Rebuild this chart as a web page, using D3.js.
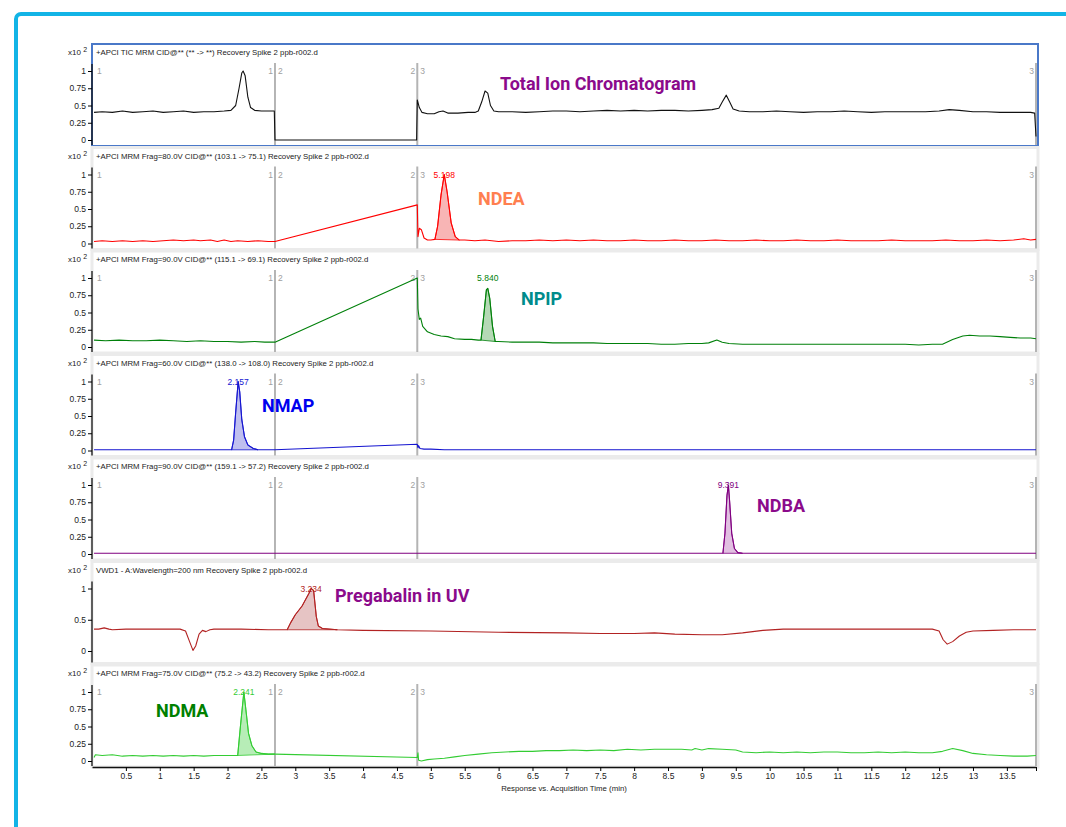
<!DOCTYPE html>
<meta http-equiv="Content-type" content="text/html; charset=UTF-8"/>
<style>body { margin: 0 } * { font-family: 'Liberation Sans', Arial, sans-serif }</style>
<svg width="1066" height="827"></svg>
<script src="https://d3js.org/d3.v7.min.js"></script>
<script>
// retention time (min), response (x10^2)
var ticTrace = [[0.03,0.40],[0.15,0.41],[0.3,0.40],[0.45,0.42],[0.6,0.40],[0.75,0.41],[0.9,0.42],[1.05,0.40],[1.2,0.41],[1.35,0.42],[1.5,0.40],[1.65,0.41],[1.8,0.41],[1.95,0.42],[2.05,0.43],[2.12,0.50],[2.17,0.75],[2.21,0.97],[2.23,1.0],[2.26,0.93],[2.30,0.62],[2.34,0.47],[2.40,0.43],[2.5,0.42],[2.6,0.42],[2.69,0.42],[2.70,0.0],[4.79,0.0],[4.80,0.58],[4.83,0.47],[4.87,0.40],[4.95,0.38],[5.05,0.38],[5.12,0.41],[5.18,0.42],[5.25,0.39],[5.4,0.39],[5.55,0.40],[5.65,0.40],[5.70,0.42],[5.75,0.55],[5.80,0.71],[5.84,0.68],[5.88,0.50],[5.93,0.42],[6.0,0.41],[6.2,0.41],[6.4,0.40],[6.6,0.41],[6.8,0.42],[7.0,0.42],[7.2,0.41],[7.4,0.42],[7.6,0.43],[7.8,0.42],[8.0,0.43],[8.2,0.42],[8.4,0.43],[8.6,0.43],[8.8,0.42],[9.0,0.43],[9.15,0.44],[9.25,0.46],[9.30,0.55],[9.36,0.65],[9.41,0.55],[9.46,0.45],[9.55,0.42],[9.7,0.41],[9.9,0.41],[10.1,0.42],[10.3,0.41],[10.5,0.40],[10.7,0.41],[10.9,0.41],[11.1,0.42],[11.3,0.41],[11.5,0.40],[11.7,0.41],[11.9,0.41],[12.1,0.41],[12.3,0.41],[12.5,0.42],[12.65,0.44],[12.8,0.43],[13.0,0.41],[13.2,0.41],[13.4,0.40],[13.6,0.40],[13.85,0.40],[13.91,0.39],[13.93,0.05]];

var ndeaTrace = [[0.03,0.03],[0.15,0.04],[0.3,0.03],[0.45,0.04],[0.6,0.03],[0.75,0.04],[0.9,0.03],[1.05,0.04],[1.2,0.05],[1.35,0.04],[1.5,0.05],[1.6,0.04],[1.75,0.05],[1.85,0.03],[1.95,0.05],[2.05,0.03],[2.15,0.04],[2.3,0.03],[2.45,0.04],[2.6,0.03],[2.70,0.03],[4.80,0.56],[4.81,0.10],[4.83,0.22],[4.86,0.20],[4.9,0.08],[4.95,0.05],[5.0,0.05],[5.06,0.06],[5.10,0.25],[5.15,0.70],[5.198,1.0],[5.24,0.75],[5.30,0.30],[5.36,0.10],[5.42,0.05],[5.5,0.05],[5.65,0.04],[5.8,0.05],[6.0,0.03],[6.2,0.04],[6.4,0.04],[6.6,0.05],[6.8,0.04],[7.0,0.05],[7.2,0.04],[7.4,0.05],[7.6,0.04],[7.8,0.04],[8.0,0.05],[8.2,0.04],[8.4,0.04],[8.6,0.05],[8.8,0.04],[9.0,0.04],[9.2,0.05],[9.4,0.04],[9.6,0.04],[9.8,0.05],[10.0,0.04],[10.2,0.04],[10.4,0.05],[10.6,0.04],[10.8,0.04],[11.0,0.05],[11.2,0.04],[11.4,0.04],[11.6,0.04],[11.8,0.05],[12.0,0.04],[12.2,0.04],[12.4,0.04],[12.6,0.05],[12.8,0.04],[13.0,0.04],[13.2,0.05],[13.4,0.04],[13.6,0.05],[13.75,0.07],[13.85,0.05],[13.93,0.06]];

var npipTrace = [[0.03,0.10],[0.2,0.09],[0.4,0.10],[0.6,0.09],[0.8,0.09],[1.0,0.10],[1.2,0.09],[1.4,0.08],[1.6,0.09],[1.8,0.08],[2.0,0.08],[2.2,0.07],[2.4,0.08],[2.55,0.07],[2.70,0.07],[4.80,1.0],[4.81,0.55],[4.83,0.40],[4.85,0.42],[4.88,0.30],[4.95,0.22],[5.05,0.18],[5.15,0.16],[5.25,0.15],[5.35,0.12],[5.5,0.11],[5.6,0.11],[5.7,0.10],[5.74,0.10],[5.78,0.45],[5.82,0.83],[5.84,0.85],[5.87,0.70],[5.91,0.30],[5.95,0.08],[6.0,0.08],[6.2,0.07],[6.4,0.07],[6.6,0.07],[6.8,0.06],[7.0,0.06],[7.2,0.06],[7.4,0.06],[7.6,0.05],[7.8,0.05],[8.0,0.05],[8.2,0.05],[8.4,0.04],[8.6,0.04],[8.8,0.05],[9.0,0.05],[9.1,0.06],[9.22,0.10],[9.3,0.07],[9.4,0.05],[9.6,0.04],[9.8,0.04],[10.0,0.04],[10.3,0.04],[10.6,0.04],[10.9,0.04],[11.2,0.04],[11.5,0.04],[11.8,0.04],[12.0,0.04],[12.2,0.03],[12.4,0.04],[12.55,0.04],[12.7,0.11],[12.85,0.16],[12.95,0.17],[13.1,0.16],[13.25,0.16],[13.4,0.15],[13.55,0.14],[13.7,0.13],[13.85,0.13],[13.93,0.12]];

var nmapTrace = [[0.03,0.01],[0.5,0.01],[1.0,0.01],[1.5,0.01],[1.9,0.01],[2.06,0.01],[2.09,0.15],[2.12,0.55],[2.157,1.0],[2.18,0.85],[2.21,0.45],[2.25,0.20],[2.30,0.08],[2.38,0.03],[2.45,0.01],[2.5,0.01],[2.70,0.01],[4.80,0.09],[4.81,0.04],[4.82,0.07],[4.84,0.03],[4.9,0.02],[5.0,0.02],[5.2,0.01],[6.0,0.01],[8.0,0.01],[10.0,0.01],[12.0,0.01],[13.93,0.01]];

var ndbaTrace = [[0.03,0.01],[1.0,0.01],[2.0,0.01],[2.70,0.01],[4.80,0.01],[6.0,0.01],[8.0,0.01],[9.0,0.01],[9.31,0.01],[9.34,0.30],[9.37,0.85],[9.391,1.0],[9.41,0.75],[9.44,0.30],[9.48,0.08],[9.53,0.02],[9.6,0.01],[11.0,0.01],[13.93,0.01]];

var uvTrace = [[0.03,0.35],[0.1,0.35],[0.18,0.37],[0.25,0.35],[0.3,0.34],[0.5,0.35],[0.8,0.35],[1.1,0.35],[1.3,0.35],[1.38,0.32],[1.44,0.15],[1.49,0.01],[1.53,0.08],[1.58,0.27],[1.63,0.33],[1.68,0.31],[1.74,0.34],[1.8,0.35],[2.2,0.35],[2.6,0.34],[2.88,0.34],[2.93,0.45],[3.0,0.58],[3.1,0.72],[3.2,0.92],[3.234,1.0],[3.27,0.97],[3.31,0.55],[3.34,0.40],[3.4,0.36],[3.62,0.34],[4.0,0.33],[5.0,0.32],[6.0,0.30],[7.0,0.29],[7.5,0.28],[8.0,0.28],[8.3,0.29],[8.6,0.27],[9.0,0.26],[9.3,0.26],[9.6,0.29],[9.9,0.33],[10.2,0.35],[11.0,0.35],[12.0,0.35],[12.4,0.35],[12.5,0.32],[12.56,0.18],[12.62,0.11],[12.7,0.15],[12.8,0.24],[12.9,0.30],[13.0,0.32],[13.3,0.33],[13.6,0.34],[13.93,0.34]];

var ndmaTrace = [[0.03,0.05],[0.05,0.09],[0.15,0.08],[0.3,0.09],[0.45,0.07],[0.6,0.08],[0.75,0.07],[0.9,0.08],[1.05,0.07],[1.2,0.08],[1.35,0.07],[1.5,0.08],[1.65,0.07],[1.8,0.08],[1.95,0.08],[2.1,0.08],[2.15,0.08],[2.19,0.50],[2.241,1.0],[2.27,0.75],[2.31,0.40],[2.36,0.22],[2.42,0.13],[2.5,0.11],[2.6,0.10],[2.70,0.10],[4.80,0.05],[4.81,0.12],[4.82,0.01],[4.86,0.0],[4.95,0.02],[5.05,0.03],[5.2,0.04],[5.35,0.06],[5.5,0.08],[5.7,0.10],[5.9,0.12],[6.1,0.13],[6.3,0.14],[6.5,0.14],[6.7,0.15],[6.9,0.15],[7.1,0.16],[7.3,0.15],[7.5,0.16],[7.7,0.15],[7.9,0.17],[8.1,0.16],[8.3,0.17],[8.5,0.17],[8.7,0.17],[8.85,0.16],[8.9,0.18],[9.0,0.16],[9.1,0.18],[9.3,0.17],[9.5,0.16],[9.6,0.13],[9.8,0.12],[10.0,0.13],[10.2,0.12],[10.4,0.13],[10.6,0.12],[10.8,0.13],[11.0,0.13],[11.2,0.12],[11.4,0.12],[11.6,0.13],[11.8,0.12],[12.0,0.13],[12.2,0.12],[12.4,0.12],[12.55,0.14],[12.7,0.18],[12.85,0.15],[13.0,0.11],[13.2,0.09],[13.4,0.08],[13.6,0.07],[13.8,0.07],[13.93,0.08]];

var panelTitles = [
  "+APCI TIC MRM CID@** (** -> **) Recovery Spike 2 ppb-r002.d",
  "+APCI MRM Frag=80.0V CID@** (103.1 -> 75.1) Recovery Spike 2 ppb-r002.d",
  "+APCI MRM Frag=90.0V CID@** (115.1 -> 69.1) Recovery Spike 2 ppb-r002.d",
  "+APCI MRM Frag=60.0V CID@** (138.0 -> 108.0) Recovery Spike 2 ppb-r002.d",
  "+APCI MRM Frag=90.0V CID@** (159.1 -> 57.2) Recovery Spike 2 ppb-r002.d",
  "VWD1 - A:Wavelength=200 nm Recovery Spike 2 ppb-r002.d",
  "+APCI MRM Frag=75.0V CID@** (75.2 -> 43.2) Recovery Spike 2 ppb-r002.d"
];
var compoundNames = ["Total Ion Chromatogram", "NDEA", "NPIP", "NMAP", "NDBA", "Pregabalin in UV", "NDMA"];
var peakTimes = [null, 5.198, 5.840, 2.157, 9.391, 3.234, 2.241];
var peakLabels = ["", "5.198", "5.840", "2.157", "9.391", "3.234", "2.241"];
var peakStart = [null, 5.06, 5.74, 2.06, 9.31, 2.88, 2.15];
var peakEnd = [null, 5.42, 5.95, 2.45, 9.60, 3.62, 2.70];
var segmentBounds = [0.03, 2.70, 4.80, 13.93];
var yTicksMRM = [0, 0.25, 0.5, 0.75, 1];
var yTicksUV = [0, 0.5, 1];
var xTicks = [0.5,1,1.5,2,2.5,3,3.5,4,4.5,5,5.5,6,6.5,7,7.5,8,8.5,9,9.5,10,10.5,11,11.5,12,12.5,13,13.5];

var traces = [ticTrace, ndeaTrace, npipTrace, nmapTrace, ndbaTrace, uvTrace, ndmaTrace];
var lineColors = ["#111111", "#ff0000", "#00800a", "#1515d0", "#800080", "#b22222", "#33cc33"];
var fillColors = ["none", "#f7a8a8", "#a8d2a8", "#b4b4ec", "#dcb4dc", "#e2baba", "#aaeaaa"];
var nameColors = ["#8b0a8b", "#ff7f50", "#008b8b", "#0000ee", "#8b0a8b", "#8b0a8b", "#008000"];
var namePos = [[500, 90], [478, 205], [521, 305], [262, 412], [757, 512], [335, 602], [156, 717]];

var svg = d3.select("svg");

// cyan frame
svg.append("rect")
    .attr("x", 16).attr("y", 14)
    .attr("width", 1100).attr("height", 900)
    .attr("rx", 5)
    .attr("fill", "none")
    .attr("stroke", "#12b4e6")
    .attr("stroke-width", 4);

var x = d3.scaleLinear().domain([0, 13.93]).range([92, 1036]);
var line = d3.line().x(function(d) { return x(d[0]); }).y(function(d) { return d[1]; });

traces.forEach(function(trace, i) {
  var top = 44 + i * 103.5;
  var isUV = i == 5;
  var y = d3.scaleLinear()
      .domain(isUV ? [-0.104, 1] : [0, 1])
      .range([top + 96, top + 27]);

  // panel box
  svg.append("rect")
      .attr("x", 92).attr("y", top)
      .attr("width", 946).attr("height", 102)
      .attr("fill", "#fff")
      .attr("stroke", i == 0 ? "#4a78c8" : "#ebebeb")
      .attr("stroke-width", i == 0 ? 2 : 3);

  svg.append("text")
      .attr("x", 96).attr("y", top + 11)
      .style("font-size", "7.8px")
      .attr("fill", "#222")
      .text(panelTitles[i]);

  var xt = svg.append("text")
      .attr("x", 68).attr("y", top + 11)
      .style("font-size", "8px")
      .attr("fill", "#222")
      .text("x10 ");
  xt.append("tspan").attr("dy", -3).style("font-size", "7px").text("2");

  // segment dividers
  if (!isUV) {
    segmentBounds.slice(1).forEach(function(t) {
      svg.append("line")
          .attr("x1", x(t)).attr("x2", x(t))
          .attr("y1", top + 19).attr("y2", top + 101)
          .attr("stroke", "#b4b4b4")
          .attr("stroke-width", 2);
    });
    var segLabels = [["1", segmentBounds[0], "start", 3], ["1", segmentBounds[1], "end", -2], ["2", segmentBounds[1], "start", 3],
                     ["2", segmentBounds[2], "end", -2], ["3", segmentBounds[2], "start", 3], ["3", segmentBounds[3], "end", -2]];
    segLabels.forEach(function(s) {
      svg.append("text")
          .attr("x", x(s[1]) + s[3]).attr("y", top + 30)
          .attr("text-anchor", s[2])
          .style("font-size", "8.5px")
          .attr("fill", "#a0a0a0")
          .text(s[0]);
    });
  }

  // integrated peak
  if (peakStart[i] != null) {
    var inPeak = trace.filter(function(d) { return d[0] >= peakStart[i] && d[0] <= peakEnd[i]; });
    var poly = inPeak.map(function(d) { return [d[0], y(d[1])]; });
    svg.append("path")
        .attr("d", line(poly) + "Z")
        .attr("fill", fillColors[i])
        .attr("fill-opacity", 0.85)
        .attr("stroke", lineColors[i])
        .attr("stroke-width", 0.8);
    svg.append("text")
        .attr("x", x(peakTimes[i])).attr("y", top + 30)
        .attr("text-anchor", "middle")
        .style("font-size", "8.5px")
        .attr("fill", lineColors[i])
        .text(peakLabels[i]);
  }

  svg.append("path")
      .attr("d", line(trace.map(function(d) { return [d[0], y(d[1])]; })))
      .attr("fill", "none")
      .attr("stroke", lineColors[i])
      .attr("stroke-width", 1.1)
      .attr("stroke-linejoin", "round");

  // y axis
  var ya = svg.append("g")
      .attr("transform", "translate(92,0)")
      .call(d3.axisLeft(y).tickValues(isUV ? yTicksUV : yTicksMRM).tickSize(4).tickSizeOuter(0)
            .tickFormat(function(d) { return String(d); }));
  ya.select(".domain").attr("d", "M0," + (top + 20) + "V" + (top + 101)).attr("stroke", "#111").attr("stroke-width", 1.3);
  ya.selectAll("text").style("font-size", "8.5px").attr("fill", "#222").attr("dx", "1");

  svg.append("text")
      .attr("x", namePos[i][0]).attr("y", namePos[i][1])
      .style("font-family", "'Liberation Sans Narrow', 'Arial Narrow', Roboto, sans-serif")
      .style("font-weight", "bold")
      .style("font-size", "18px")
      .attr("fill", nameColors[i])
      .text(compoundNames[i]);
});

// time axis
var xa = svg.append("g")
    .attr("transform", "translate(0,767)")
    .call(d3.axisBottom(x).tickValues(xTicks.concat([13.93])).tickSize(4).tickSizeOuter(0)
          .tickFormat(function(d) { return d == 13.93 ? "" : String(d); }));
xa.select(".domain").attr("stroke", "#111").attr("stroke-width", 1.3);
xa.selectAll("text").style("font-size", "8.5px").attr("fill", "#222").attr("dy", "0.6em");

svg.append("text")
    .attr("x", 564).attr("y", 791)
    .attr("text-anchor", "middle")
    .style("font-size", "7.8px")
    .attr("fill", "#222")
    .text("Response vs. Acquisition Time (min)");
</script>
